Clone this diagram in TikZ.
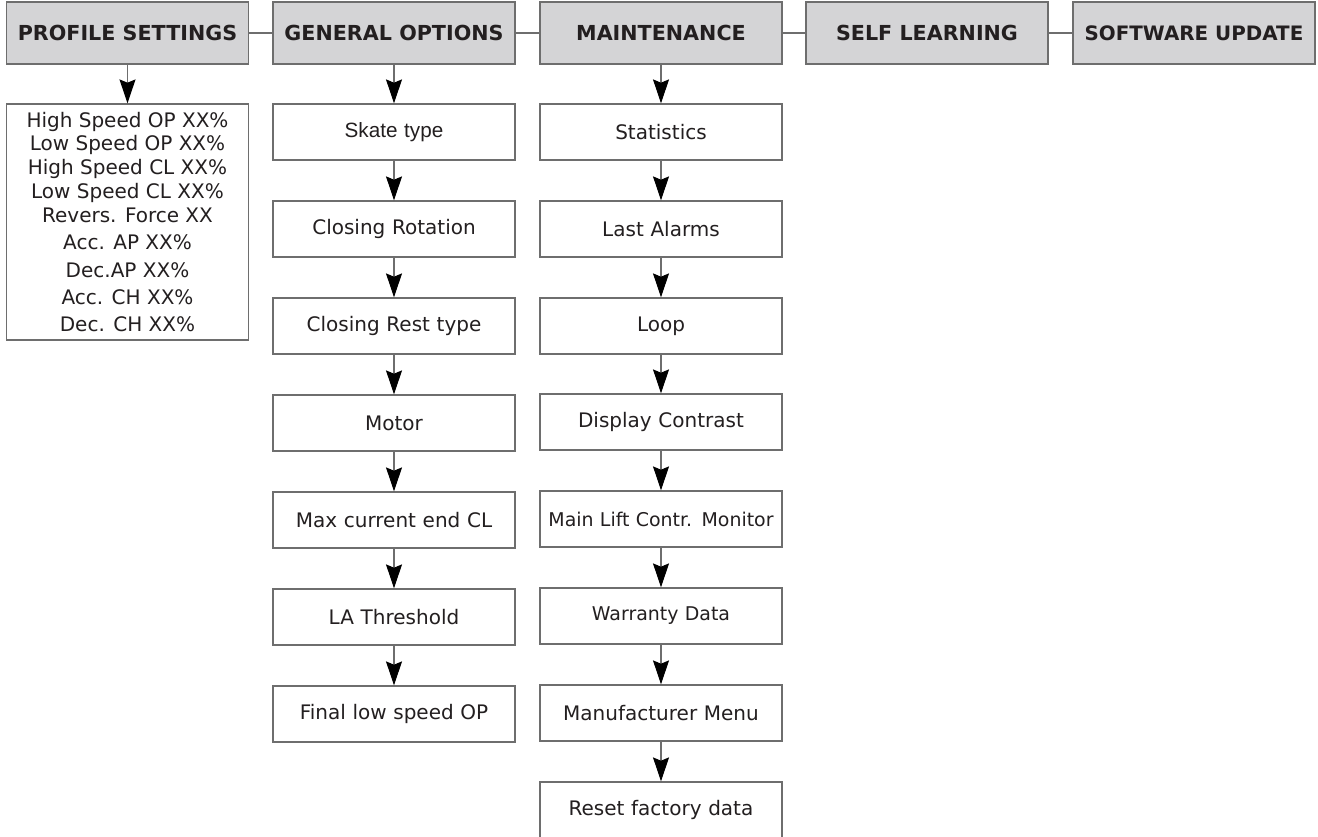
\documentclass[tikz,border=0pt]{standalone}
\usepackage{fontspec}
\setmainfont{DejaVu Sans}
\newfontfamily\arialfont{Liberation Sans}
\usepackage{tikz}
\usetikzlibrary{positioning, arrows.meta}

\definecolor{headgray}{RGB}{212,212,214}
\definecolor{linegray}{RGB}{110,110,110}
\definecolor{textblack}{RGB}{35,31,32}

\begin{document}
\begin{tikzpicture}[
    x=0.75pt, y=-0.75pt,
    line width=0.9pt,
    header/.style={draw=linegray, fill=headgray, rectangle, minimum width=181.5pt, minimum height=46.5pt, align=center, font=\bfseries\fontsize{15.5}{18}\selectfont, text=textblack},
    menubox/.style={draw=linegray, fill=white, rectangle, minimum width=181.5pt, minimum height=42pt, text width=176pt, inner sep=2pt, align=center, font=\fontsize{15}{18}\selectfont, text=textblack},
    listbox/.style={draw=linegray, fill=white, rectangle, minimum width=181pt, minimum height=177pt, align=center, font=\fontsize{15}{17.8}\selectfont, text=textblack},
    link/.style={draw=linegray, line width=0.8pt},
    down/.style={draw=linegray, line width=0.8pt, -{Stealth[length=18pt, width=12pt, inset=2.5pt, black]}}
]
    \clip (0,0) rectangle (1318,837);

    % Header row
    \node[header] (profile) at (127.5,33) {PROFILE SETTINGS};
    \node[header] (general) at (394,33) {GENERAL OPTIONS};
    \node[header] (maint) at (661,33) {MAINTENANCE};
    \node[header] (selflearn) at (927,33) {SELF LEARNING};
    \node[header, font=\bfseries\fontsize{14.9}{18}\selectfont] (swupdate) at (1194,33) {SOFTWARE UPDATE};

    \draw[link] (profile) -- (general);
    \draw[link] (general) -- (maint);
    \draw[link] (maint) -- (selflearn);
    \draw[link] (selflearn) -- (swupdate);

    % Profile settings list
    \node[listbox] (proflist) at (127.5,222) {High Speed OP XX\%\\Low Speed OP XX\%\\High Speed CL XX\%\\Low Speed CL XX\%\\Revers. Force XX\\[3pt]Acc. AP XX\%\\[2.7pt]Dec.AP XX\%\\[2.7pt]Acc. CH XX\%\\[2.7pt]Dec. CH XX\%};

    % General options column
    \node[menubox] (skate) at (394,132) {\arialfont\fontsize{15.5}{18}\selectfont Skate type};
    \node[menubox] (closrot) at (394,229) {Closing Rotation};
    \node[menubox] (closrest) at (394,326) {Closing Rest type};
    \node[menubox] (motor) at (394,423) {Motor};
    \node[menubox] (maxcur) at (394,520) {Max current end CL};
    \node[menubox] (lathr) at (394,617) {LA Threshold};
    \node[menubox] (finlow) at (394,714) {Final low speed OP};

    % Maintenance column
    \node[menubox] (stats) at (661,132) {Statistics};
    \node[menubox] (alarms) at (661,229) {Last Alarms};
    \node[menubox] (loop) at (661,326) {Loop};
    \node[menubox] (contrast) at (661,422) {Display Contrast};
    \node[menubox, font=\fontsize{14.2}{17}\selectfont] (mainlift) at (661,519) {Main Lift Contr. Monitor};
    \node[menubox, font=\fontsize{14.2}{17}\selectfont] (warranty) at (661,616) {Warranty Data};
    \node[menubox] (manuf) at (661,713) {Manufacturer Menu};
    \node[menubox] (reset) at (661,810) {Reset factory data};

    % Arrows
    \draw[down] (profile) -- (proflist);

    \draw[down] (general) -- (skate);
    \draw[down] (skate) -- (closrot);
    \draw[down] (closrot) -- (closrest);
    \draw[down] (closrest) -- (motor);
    \draw[down] (motor) -- (maxcur);
    \draw[down] (maxcur) -- (lathr);
    \draw[down] (lathr) -- (finlow);

    \draw[down] (maint) -- (stats);
    \draw[down] (stats) -- (alarms);
    \draw[down] (alarms) -- (loop);
    \draw[down] (loop) -- (contrast);
    \draw[down] (contrast) -- (mainlift);
    \draw[down] (mainlift) -- (warranty);
    \draw[down] (warranty) -- (manuf);
    \draw[down] (manuf) -- (reset);

\end{tikzpicture}
\end{document}
